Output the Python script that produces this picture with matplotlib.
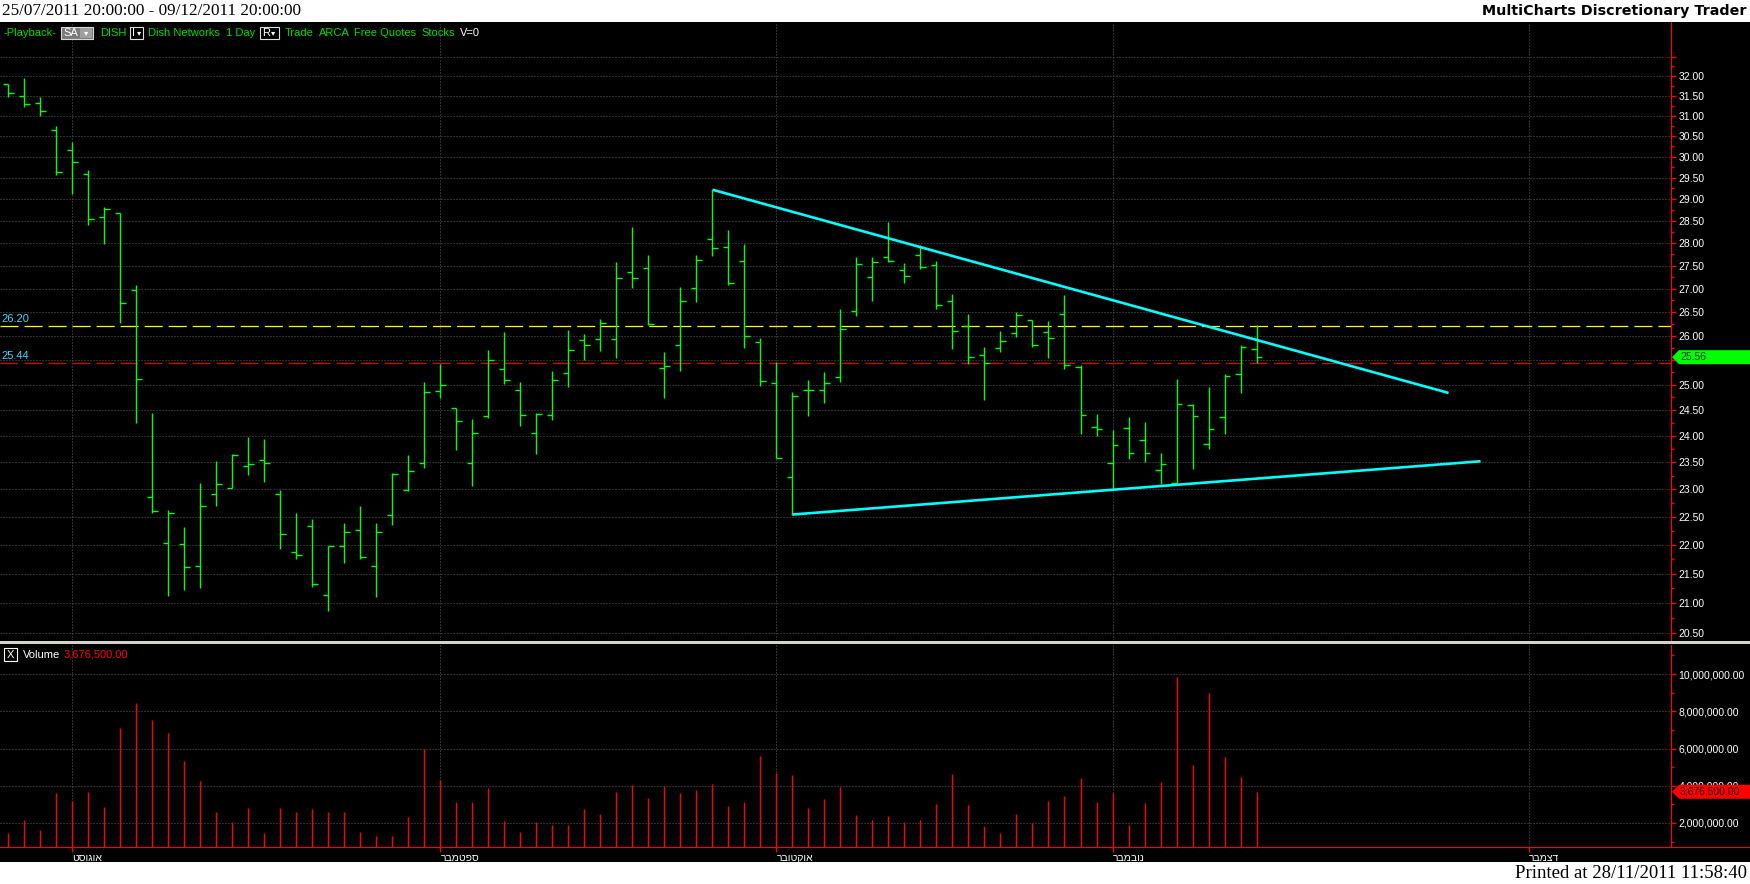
import numpy as np
import matplotlib
matplotlib.use('Agg')
import matplotlib.pyplot as plt
from matplotlib.patches import Rectangle, Polygon
from matplotlib.ticker import FixedLocator, FuncFormatter, NullFormatter
from matplotlib.transforms import IdentityTransform

plt.rcParams['font.family'] = ['Liberation Sans', 'DejaVu Sans']
plt.rcParams['lines.scale_dashes'] = False

# DISH daily bars (26/07/2011 .. 14/11/2011)
opens = [31.79, 31.48, 31.31, 30.64, 30.15, 29.59, 28.60, 28.68, 26.98, 22.85,
         22.04, 22.02, 21.64, 22.91, 23.03, 23.44, 23.54, 22.91, 21.88, 22.33,
         21.13, 21.98, 22.26, 21.64, 22.53, 22.99, 23.48, 24.88, 24.54, 23.49,
         24.39, 25.32, 24.89, 24.06, 24.40, 25.24, 25.92, 25.94, 25.93, 27.35,
         27.44, 25.33, 25.81, 27.02, 28.09, 27.91, 27.61, 25.87, 25.04, 23.23,
         24.89, 24.89, 25.15, 26.53, 27.26, 27.68, 27.40, 27.74, 27.52, 26.74,
         26.20, 25.60, 25.74, 26.05, 26.34, 26.07, 26.45, 25.37, 24.17, 23.48,
         24.16, 23.93, 23.35, 23.12, 24.60, 23.84, 24.36, 25.21, 25.72]
highs = [31.79, 31.94, 31.46, 30.75, 30.36, 29.68, 28.81, 28.68, 27.07, 24.44,
         22.62, 22.31, 23.12, 23.52, 23.65, 23.99, 23.95, 22.98, 22.56, 22.46,
         21.98, 22.39, 22.69, 22.39, 23.30, 23.63, 25.06, 25.42, 24.54, 24.33,
         25.70, 26.07, 25.06, 24.45, 25.27, 26.13, 26.03, 26.36, 27.58, 28.36,
         27.73, 25.66, 27.03, 27.74, 29.22, 28.29, 27.97, 25.95, 25.47, 24.86,
         25.10, 25.26, 26.56, 27.69, 27.69, 28.48, 27.56, 27.96, 27.61, 26.88,
         26.45, 25.76, 26.09, 26.49, 26.34, 26.30, 26.86, 25.41, 24.43, 24.11,
         24.37, 24.27, 23.68, 25.11, 24.62, 24.96, 25.22, 25.81, 26.22]
lows = [31.46, 31.22, 30.99, 29.57, 29.12, 28.41, 27.98, 26.27, 24.25, 22.57,
        21.12, 21.22, 21.26, 22.69, 23.03, 23.26, 23.14, 21.93, 21.75, 21.27,
        20.87, 21.68, 21.76, 21.10, 22.36, 22.96, 23.39, 24.73, 23.74, 23.06,
        24.35, 25.01, 24.20, 23.65, 24.31, 24.95, 25.50, 25.68, 25.54, 27.02,
        26.23, 24.74, 25.28, 26.71, 27.72, 27.08, 25.75, 24.98, 23.59, 22.54,
        24.38, 24.65, 25.05, 26.42, 26.74, 27.57, 27.12, 27.42, 26.56, 25.72,
        25.43, 24.70, 25.67, 25.98, 25.77, 25.55, 25.32, 24.03, 24.00, 23.00,
        23.57, 23.50, 23.09, 23.11, 23.38, 23.75, 24.03, 24.84, 25.45]
closes = [31.56, 31.28, 31.11, 29.63, 29.87, 28.55, 28.78, 26.70, 25.11, 22.61,
          22.56, 21.62, 22.70, 23.09, 23.63, 23.46, 23.49, 22.20, 21.83, 21.32,
          21.98, 22.22, 21.78, 22.22, 23.29, 23.33, 24.86, 24.99, 24.28, 24.05,
          25.51, 25.10, 24.41, 24.42, 25.09, 25.70, 25.80, 26.27, 27.24, 27.23,
          26.25, 25.39, 26.74, 27.62, 27.89, 27.12, 26.00, 25.07, 23.59, 24.78,
          24.89, 25.03, 26.15, 27.54, 27.58, 27.61, 27.28, 27.48, 26.65, 26.11,
          25.57, 25.44, 25.89, 26.43, 25.80, 25.96, 25.40, 24.41, 24.14, 23.82,
          23.67, 23.67, 23.46, 24.62, 24.38, 24.14, 25.17, 25.76, 25.56]
volumes = [1.46e6, 2.18e6, 1.64e6, 3.60e6, 3.20e6, 3.69e6, 2.88e6, 7.09e6, 8.42e6, 7.52e6,
           6.83e6, 5.32e6, 4.28e6, 2.61e6, 2.04e6, 2.83e6, 1.44e6, 2.83e6, 2.57e6, 2.74e6,
           2.61e6, 2.61e6, 1.50e6, 1.28e6, 1.32e6, 2.34e6, 5.95e6, 4.30e6, 3.15e6, 3.15e6,
           3.90e6, 2.13e6, 1.53e6, 2.04e6, 1.91e6, 1.91e6, 2.74e6, 2.50e6, 3.69e6, 4.06e6,
           3.36e6, 3.96e6, 3.63e6, 3.76e6, 4.12e6, 2.93e6, 3.15e6, 5.62e6, 4.69e6, 4.60e6,
           2.83e6, 3.31e6, 3.92e6, 2.45e6, 2.18e6, 2.39e6, 2.07e6, 2.18e6, 3.00e6, 4.65e6,
           2.95e6, 1.86e6, 1.48e6, 2.50e6, 2.02e6, 3.20e6, 3.43e6, 4.39e6, 3.15e6, 3.63e6,
           1.91e6, 3.09e6, 4.22e6, 9.86e6, 5.14e6, 8.96e6, 5.57e6, 4.49e6, 3.6765e6]

month_pos = [4, 27, 48, 69, 95]
month_names = ['אוגוסט', 'ספטמבר', 'אוקטובר', 'נובמבר', 'דצמבר']
price_ticks = np.arange(20.5, 32.51, 0.5)
vol_ticks = [2e6, 4e6, 6e6, 8e6, 10e6]
level_hi = 26.20
level_lo = 25.44
last_price = 25.56
last_volume = 3676500
trend_top_x, trend_top_y = [44, 90], [29.22, 24.84]
trend_bot_x, trend_bot_y = [49, 92], [22.54, 23.52]

W, H = 1750, 884
green = '#00ff00'
txt_green = '#00dd00'
grid_kw = dict(color='#5c5c5c', linestyle=(0, (0.72, 1.44)), linewidth=0.72)

fig = plt.figure(figsize=(W / 100, H / 100), dpi=100, facecolor='black')


def prect(x0, y0, x1, y1, **kw):
    fig.add_artist(Rectangle((x0 / W, 1 - y1 / H), (x1 - x0) / W, (y1 - y0) / H,
                             transform=fig.transFigure, **kw))


def ptext(x, y, s, **kw):
    kw.setdefault('va', 'center')
    fig.text(x / W, 1 - y / H, s, **kw)


# header / footer strips
prect(0, 0, W, 22, fc='white', ec='none', zorder=0)
prect(0, 862, W, H, fc='white', ec='none', zorder=0)
ptext(2, 11, '25/07/2011 20:00:00 - 09/12/2011 20:00:00', color='black',
      fontsize=12.3, family='Liberation Serif')
ptext(1747, 11, 'MultiCharts Discretionary Trader', color='black', fontsize=10.3,
      family='DejaVu Sans', weight='bold', ha='right')
ptext(1747, 873, 'Printed at 28/11/2011 11:58:40', color='black', fontsize=13.5,
      family='Liberation Serif', ha='right')


def price_label(v, p):
    # 32.50 sits under the toolbar, 25.50 is hidden by the last-price box
    if v > 32.2 or abs(v - 25.5) < 0.01:
        return ''
    return f'{v:.2f}'


# ---- price panel ----
ax = fig.add_axes([0, 1 - 640 / H, 1671 / W, (640 - 22) / H])
ax.set_facecolor('black')
ax.set_yscale('log')
ax.set_ylim(20.39, 33.41)
ax.set_xlim(-0.52, 103.9)
ax.yaxis.set_major_locator(FixedLocator(price_ticks))
ax.yaxis.set_minor_locator(FixedLocator(price_ticks[:-1] + 0.25))
ax.yaxis.set_major_formatter(FuncFormatter(price_label))
ax.yaxis.set_minor_formatter(NullFormatter())
ax.yaxis.tick_right()
ax.tick_params(axis='y', which='both', colors='red', labelcolor='white', direction='out',
               labelsize=7.5, pad=2)
ax.tick_params(axis='y', which='major', length=3.5, width=1)
ax.tick_params(axis='y', which='minor', length=2, width=1)
ax.set_xticks(month_pos)
ax.tick_params(axis='x', length=0, labelbottom=False)
ax.grid(True, which='major', **grid_kw)
for s in ['top', 'left', 'bottom']:
    ax.spines[s].set_visible(False)
ax.spines['right'].set_color('red')

idx = np.arange(len(opens))
ax.vlines(idx, lows, highs, color=green, lw=1.0, zorder=3)
ax.hlines(opens, idx - 0.33, idx, color=green, lw=1.0, zorder=3)
ax.hlines(closes, idx, idx + 0.33, color=green, lw=1.0, zorder=3)

ax.axhline(level_hi, color='#ffff00', lw=0.9, dashes=(13, 4.3), zorder=2)
ax.axhline(level_lo, color='#e00000', lw=0.9, dashes=(12.5, 4.8), zorder=2)
for lv in [level_hi, level_lo]:
    ax.annotate(f'{lv:.2f}', xy=(0, lv), xycoords=('axes fraction', 'data'),
                xytext=(1, 2), textcoords='offset pixels', color='#40d8ff',
                fontsize=8, va='bottom', ha='left')

ax.plot(trend_top_x, trend_top_y, color='#00ffff', lw=1.9, zorder=4, solid_capstyle='butt')
ax.plot(trend_bot_x, trend_bot_y, color='#00ffff', lw=1.9, zorder=4, solid_capstyle='butt')


def value_box(a, value, text, fc, tc):
    yd = a.transData.transform((0, value))[1]
    x0 = a.transAxes.transform((1, 0))[0]
    fig.add_artist(Polygon([(x0 + 1, yd), (x0 + 8, yd + 7), (W, yd + 7), (W, yd - 7),
                            (x0 + 8, yd - 7)], closed=True, transform=IdentityTransform(),
                           fc=fc, ec='none', zorder=5))
    fig.text(x0 + 9, yd, text, transform=IdentityTransform(), color=tc, fontsize=7.5,
             va='center', ha='left', zorder=6)


value_box(ax, last_price, f'{last_price:.2f}', '#00ff00', '#003000')

# toolbar row
ptext(3, 33, '-Playback-', color=txt_green, fontsize=8)
prect(61, 27, 93, 39, fc='#7a7a7a', ec='#d8d8d8', lw=0.8)
prect(80, 28, 92, 38, fc='#a0a0a0', ec='none')
ptext(63, 33, 'SA', color='white', fontsize=8)
ptext(86, 33, '▾', color='white', fontsize=6, ha='center', family='DejaVu Sans')
ptext(100, 33, 'DISH', color=txt_green, fontsize=8)
prect(130, 27, 143, 39, fc='black', ec='#e0e0e0', lw=0.8)
ptext(132, 33, 'I', color='white', fontsize=8)
ptext(139, 33, '▾', color='white', fontsize=6, ha='center', family='DejaVu Sans')
ptext(148, 33, 'Dish Networks', color=txt_green, fontsize=8)
ptext(226, 33, '1 Day', color=txt_green, fontsize=8)
prect(260, 27, 279, 39, fc='black', ec='#e0e0e0', lw=0.8)
ptext(262, 33, 'R', color='white', fontsize=8)
ptext(273, 33, '▾', color='white', fontsize=6, ha='center', family='DejaVu Sans')
ptext(285, 33, 'Trade', color=txt_green, fontsize=8)
ptext(319, 33, 'ARCA', color=txt_green, fontsize=8)
ptext(354, 33, 'Free Quotes', color=txt_green, fontsize=8)
ptext(421, 33, 'Stocks', color=txt_green, fontsize=8)
ptext(460, 33, 'V=0', color='white', fontsize=8)

# separator between panels
prect(0, 641, W, 644, fc='#d4d4cc', ec='none')

# ---- volume panel ----
axv = fig.add_axes([0, 1 - 847 / H, 1671 / W, (847 - 645) / H])
axv.set_facecolor('black')
axv.set_ylim(0.71e6, 11.56e6)
axv.set_xlim(ax.get_xlim())
axv.vlines(idx, 0, volumes, color='#ff0000', lw=1.0, zorder=3)
axv.yaxis.set_major_locator(FixedLocator(vol_ticks))
axv.yaxis.set_minor_locator(FixedLocator([1e6, 3e6, 5e6, 7e6, 9e6, 11e6]))
axv.yaxis.set_major_formatter(FuncFormatter(lambda v, p: f'{v:,.2f}'))
axv.yaxis.tick_right()
axv.tick_params(axis='y', which='both', colors='red', labelcolor='white', direction='out',
                labelsize=7.5, pad=2)
axv.tick_params(axis='y', which='major', length=3.5, width=1)
axv.tick_params(axis='y', which='minor', length=2, width=1)
axv.set_xticks(month_pos)
axv.set_xticklabels([m[::-1] for m in month_names], ha='left')
axv.tick_params(axis='x', colors='red', labelcolor='white', length=3.5, width=1,
                labelsize=7.5, pad=1)
axv.grid(True, which='major', **grid_kw)
for s in ['top', 'left']:
    axv.spines[s].set_visible(False)
axv.spines['right'].set_color('red')
axv.spines['bottom'].set_color('red')
prect(1671, 846.5, W, 847.5, fc='red', ec='none')

value_box(axv, last_volume, f'{last_volume:,.2f}', '#ff0000', '#200000')

prect(4, 648, 17, 661, fc='none', ec='white', lw=0.8)
ptext(10.5, 654.5, 'X', color='white', fontsize=8, ha='center')
ptext(23, 654.5, 'Volume', color='white', fontsize=8)
ptext(64, 654.5, f'{last_volume:,.2f}', color='#ff0000', fontsize=8)

fig.savefig('out.png', dpi=100, facecolor='black')
